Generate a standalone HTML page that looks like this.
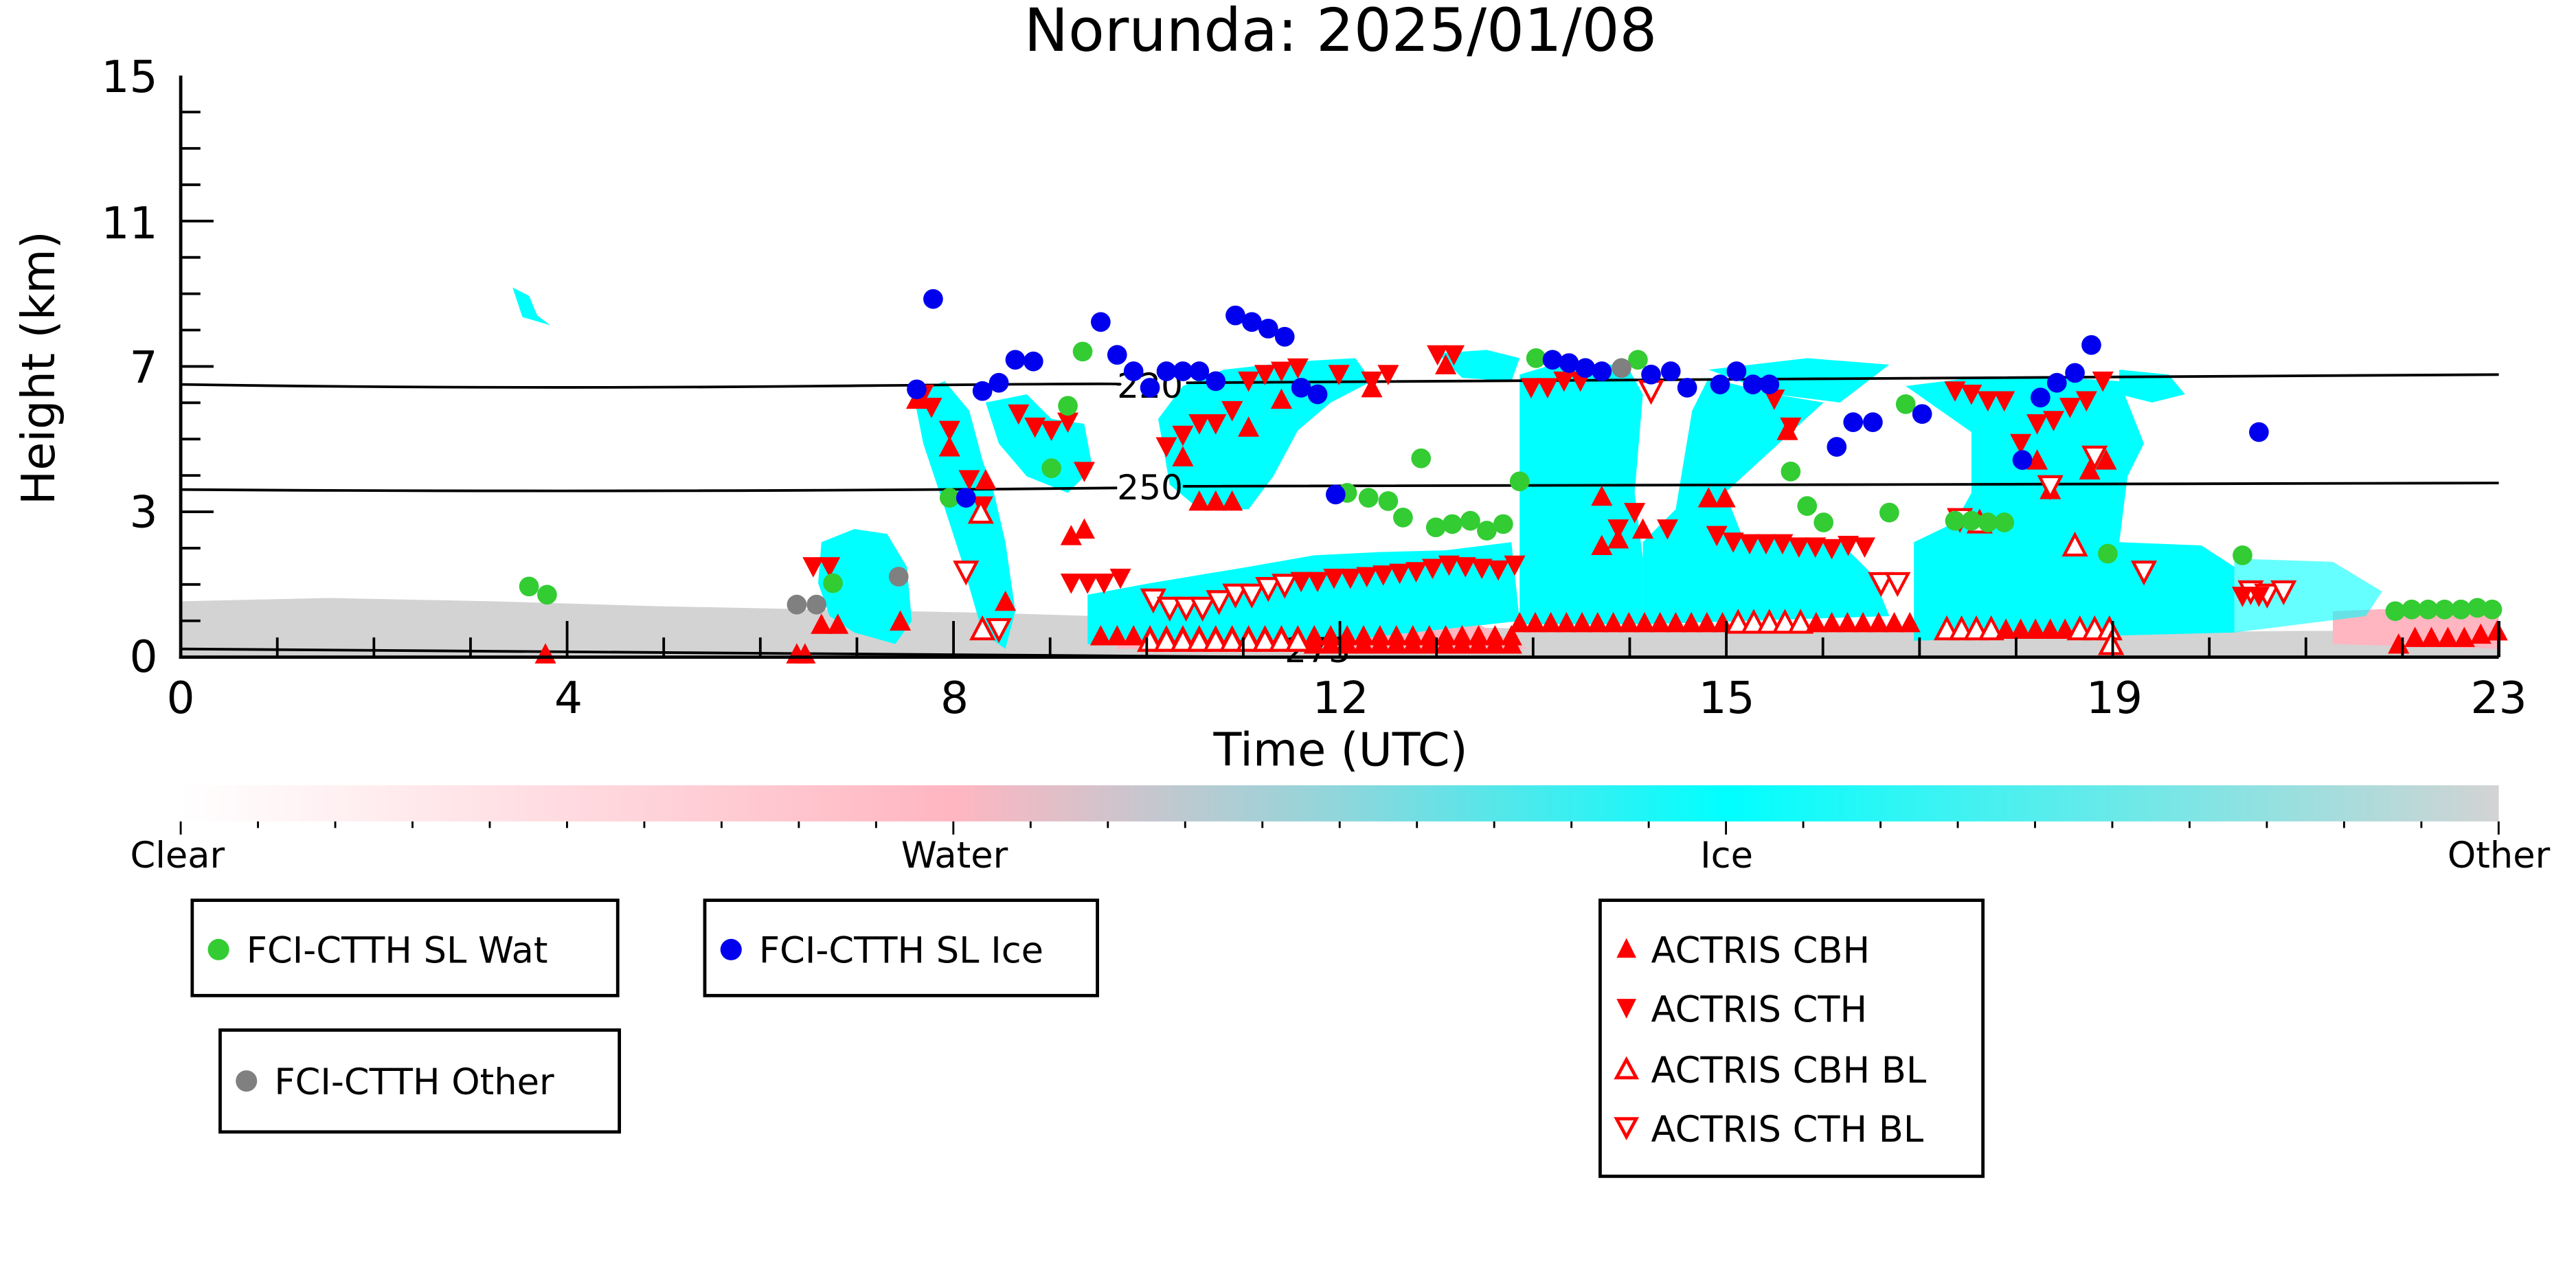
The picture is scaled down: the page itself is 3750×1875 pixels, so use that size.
<!DOCTYPE html>
<html><head><meta charset="utf-8"><style>
html,body{margin:0;padding:0;background:#fff;}
svg{display:block;font-family:"DejaVu Sans","Liberation Sans",sans-serif;}
</style></head><body>
<svg id="s" width="3750" height="1875" viewBox="0 0 1568 784" xmlns="http://www.w3.org/2000/svg">
<defs>
<linearGradient id="cb" x1="0" x2="1" y1="0" y2="0">
<stop offset="0" stop-color="#ffffff"/>
<stop offset="0.333" stop-color="#ffb6c1"/>
<stop offset="0.5" stop-color="#8fd6db"/>
<stop offset="0.667" stop-color="#00ffff"/>
<stop offset="1" stop-color="#d3d3d3"/>
</linearGradient>
</defs>
<text x="816" y="31" font-size="36" text-anchor="middle">Norunda: 2025/01/08</text>
<g id="data">
<polygon fill="#d3d3d3" points="110,366 200,364 300,366 400,369 500,371 600,373 700,376 800,380 900,382 1000,384 1100,384 1200,384 1300,385 1400,384 1521,384 1521,400 110,400"/>
<polygon fill="#ffb6c1" points="1420,372 1521,368 1521,395 1420,392"/>
<polygon fill="#ffb6c1" points="680,370 790,362 900,380 930,395 680,395"/>
<g fill="#00ffff">
<polygon points="312,175 322,180 327,192 335,198 318,193"/>
<polygon points="500,330 520,322 540,325 552,345 555,378 545,392 520,385 505,375 498,355"/>
<polygon points="556,240 575,232 590,250 598,280 605,300 612,330 618,372 612,395 598,385 585,340 572,300 562,270"/>
<polygon points="600,245 625,240 640,255 660,258 665,285 650,300 625,290 608,270"/>
<polygon points="662,362 700,355 760,345 800,338 840,336 880,335 920,330 925,378 860,385 800,392 740,392 690,392 662,392"/>
<polygon points="705,255 720,235 745,225 790,220 825,218 835,232 810,245 790,262 775,290 760,310 730,310 712,295"/>
<polygon points="875,215 905,213 925,218 920,232 890,230"/>
<polygon points="925,228 945,222 990,222 1000,240 995,300 1000,340 1000,380 925,380"/>
<polygon points="1000,330 1020,310 1030,250 1040,230 1060,235 1080,240 1110,245 1050,300 1060,325 1120,330 1140,350 1150,375 1000,380"/>
<polygon points="1040,225 1100,218 1150,222 1120,245 1080,240"/>
<polygon points="1165,330 1190,318 1200,300 1200,260 1215,240 1260,235 1290,240 1295,290 1290,330 1340,332 1360,345 1360,385 1165,390"/>
<polygon points="1160,235 1200,230 1260,230 1290,232 1305,270 1290,300 1270,290 1240,280 1210,270"/>
<polygon points="1360,340 1420,342 1450,360 1440,375 1400,380 1360,385" opacity="0.6"/>
<polygon points="1290,225 1320,228 1330,240 1310,245 1290,240" />
</g>
</g>
<g stroke="#000" stroke-width="1.6" fill="none">
<path d="M110,234 Q300,237 500,235 T680,234 M722,233 Q1000,231 1521,228"/>
<path d="M110,298 Q400,300 680,297 M720,296 Q1000,294 1521,294"/>
<path d="M110,395 Q500,398 780,400 M822,400 L1000,400"/>
</g>
<g font-size="21" text-anchor="middle">
<text x="700" y="242">220</text>
<text x="700" y="304">250</text>
<text x="802" y="403">273</text>
</g>
<g id="marks"></g>
<g stroke="#000" stroke-width="2" fill="none">
<line x1="110" y1="46" x2="110" y2="401"/>
<line x1="109" y1="400" x2="1521" y2="400"/>
<line x1="1521" y1="378" x2="1521" y2="400"/>
</g>
<g id="ticks" stroke="#000" stroke-width="1.6"></g>
<g font-size="27" text-anchor="end">
<text x="96" y="409">0</text>
<text x="96" y="321">3</text>
<text x="96" y="233">7</text>
<text x="96" y="145">11</text>
<text x="96" y="56">15</text>
</g>
<text transform="translate(33,224) rotate(-90)" font-size="28" text-anchor="middle">Height (km)</text>
<g font-size="27" text-anchor="middle">
<text x="110" y="434">0</text>
<text x="346" y="434">4</text>
<text x="581" y="434">8</text>
<text x="816" y="434">12</text>
<text x="1051" y="434">15</text>
<text x="1287" y="434">19</text>
<text x="1521" y="434">23</text>
</g>
<text x="816" y="466" font-size="28" text-anchor="middle">Time (UTC)</text>
<rect x="110" y="478" width="1411" height="22" fill="url(#cb)"/>
<g id="cbt" stroke="#000" stroke-width="1.2"></g>
<g font-size="22" text-anchor="middle">
<text x="108" y="528">Clear</text>
<text x="581" y="528">Water</text>
<text x="1051" y="528">Ice</text>
<text x="1521" y="528">Other</text>
</g>
<g stroke="#000" stroke-width="2" fill="#fff">
<rect x="117" y="548" width="259" height="58"/>
<rect x="429" y="548" width="239" height="58"/>
<rect x="134" y="627" width="243" height="62"/>
<rect x="974" y="548" width="233" height="168"/>
</g>
<circle cx="133" cy="578" r="6.5" fill="#33cc33"/>
<circle cx="445" cy="578" r="6.5" fill="#0000ee"/>
<circle cx="150" cy="658" r="6.5" fill="#808080"/>
<g font-size="22">
<text x="150" y="586">FCI-CTTH SL Wat</text>
<text x="462" y="586">FCI-CTTH SL Ice</text>
<text x="167" y="666">FCI-CTTH Other</text>
<text x="1005" y="586">ACTRIS CBH</text>
<text x="1005" y="622">ACTRIS CTH</text>
<text x="1005" y="659">ACTRIS CBH BL</text>
<text x="1005" y="695">ACTRIS CTH BL</text>
</g>
<polygon points="990,571 996,583 984,583" fill="#f00"/>
<polygon points="984,608 996,608 990,620" fill="#f00"/>
<polygon points="990,645 996,656 984,656" fill="none" stroke="#f00" stroke-width="2"/>
<polygon points="984,681 996,681 990,692" fill="none" stroke="#f00" stroke-width="2"/>
<script>
var NS="http://www.w3.org/2000/svg";
function el(p,t,a){var e=document.createElementNS(NS,t);for(var k in a)e.setAttribute(k,a[k]);p.appendChild(e);return e;}
var tk=document.getElementById('ticks');
for(var i=1;i<24;i++){var x=110+i*58.8;var maj=(i%4==0);if(x>1521)break;el(tk,'line',{x1:x,y1:400,x2:x,y2:maj?378:388});}
for(var j=1;j<16;j++){var y=400-j*22.12;el(tk,'line',{x1:110,y1:y,x2:(j%4==0)?130:122,y2:y});}
var cbt=document.getElementById('cbt');
for(var i=0;i<=30;i++){var x=110+i*47.03;el(cbt,'line',{x1:x,y1:500,x2:x,y2:(i%10==0)?508:504});}
var m=document.getElementById('marks');
function C(c,pts){pts.forEach(function(p){el(m,'circle',{cx:p[0],cy:p[1],r:6,fill:c});});}
function T(x,y,up,fill){var s=6.5;var pts=up?[x,y-s,x+s,y+s*0.9,x-s,y+s*0.9]:[x-s,y-s*0.9,x+s,y-s*0.9,x,y+s];
el(m,'polygon',fill?{points:pts.join(','),fill:'#f00'}:{points:pts.join(','),fill:'#fff',stroke:'#f00','stroke-width':1.8});}
for(var x=670;x<925;x+=10)T(x,387,1,1);
for(var x=925;x<1170;x+=9.5)T(x,379,1,(x>1055&&x<1100)?0:1);
for(var x=1185;x<1290;x+=9)T(x,383,1,(x<1220||x>1260)?0:1);
for(var x=700;x<800;x+=10)T(x,390,1,0);
for(var x=800;x<925;x+=10)T(x,392,1,1);
var cth=[[652,355],[662,355],[672,355],[682,352],[702,365],[712,370],[722,370],[732,370],[742,366],[752,362],[762,362],[772,358],[782,356],[792,354],[802,354],[812,352],[822,352],[832,351],[842,350],[852,349],[862,348],[872,346],[882,344],[892,345],[902,346],[912,347],[922,344],[932,236],[942,236],[952,232],[962,232],[985,322],[995,312],[1005,238],[1015,322],[1045,326],[1055,330],[1065,331],[1075,331],[1085,331],[1095,333],[1105,333],[1115,334],[1125,332],[1135,333],[1145,355],[1155,355],[1190,238],[1200,240],[1210,244],[1220,244],[1230,270],[1240,258],[1250,256],[1260,248],[1270,244],[1280,232],[1305,348],[1370,360],[1380,362],[1390,360],[562,240],[567,248],[578,262],[590,292],[598,308],[620,252],[630,260],[640,262],[650,257],[660,287],[710,272],[720,265],[730,258],[740,258],[750,250],[760,232],[770,228],[780,226],[790,224],[815,228],[835,232],[845,228],[875,216],[885,216],[1080,243],[1090,260]];
cth.forEach(function(p,i){var bl=(p[1]>340&&p[1]<372&&((p[0]>700&&p[0]<790)||(p[0]>1040&&p[0]<1160)||p[0]>1300))||p[0]==1155||p[0]==1005;T(p[0],p[1],0,!bl);});
var cbh=[[558,243],[578,272],[600,292],[612,366],[652,326],[660,322],[720,278],[730,305],[740,305],[750,305],[760,260],[780,243],[835,236],[880,222],[975,302],[985,328],[1000,322],[975,332],[1040,303],[1050,303],[1088,262],[1240,280],[1248,298],[1272,286],[1282,280],[490,398],[500,380],[510,380],[548,378],[332,398],[485,398],[1460,392],[1470,388],[1480,388],[1490,388],[1500,388],[1510,386],[1520,384]];
cbh.forEach(function(p){T(p[0],p[1],1,1);});
[[588,348],[598,383],[608,383],[597,312],[1193,316],[1205,318],[1248,296],[1263,332],[1275,278],[1285,392]].forEach(function(p,i){T(p[0],p[1],i%2,0);});
[[495,345],[505,345],[1365,363],[1375,363]].forEach(function(p){T(p[0],p[1],0,1);});
C('#33cc33',[[322,357],[333,362],[507,355],[578,303],[640,285],[650,247],[659,214],[865,279],[820,300],[833,303],[845,305],[854,315],[874,321],[884,319],[895,317],[905,323],[915,319],[925,293],[935,218],[997,219],[1090,287],[1100,308],[1110,318],[1150,312],[1160,246],[1190,317],[1200,317],[1210,318],[1220,318],[1283,337],[1365,338],[1458,372],[1468,371],[1478,371],[1488,371],[1498,371],[1508,370],[1517,371]]);
C('#0000ee',[[568,182],[558,237],[588,303],[598,238],[608,233],[618,219],[629,220],[670,196],[680,216],[690,226],[700,236],[710,226],[720,226],[730,226],[740,232],[752,192],[762,196],[772,200],[782,205],[792,236],[802,240],[813,301],[945,219],[955,221],[965,224],[975,226],[1005,228],[1017,226],[1027,236],[1047,234],[1057,226],[1067,234],[1077,234],[1118,272],[1128,257],[1140,257],[1170,252],[1231,280],[1242,242],[1252,233],[1263,227],[1273,210],[1375,263]]);
C('#808080',[[485,368],[497,368],[547,351],[987,224]]);
</script>
</svg>
</body></html>
